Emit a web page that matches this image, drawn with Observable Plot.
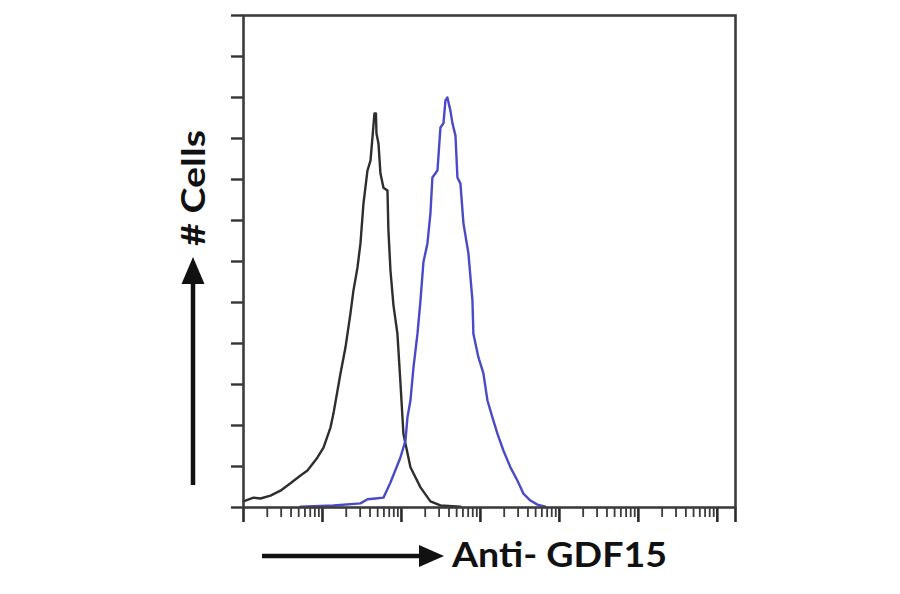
<!DOCTYPE html>
<html><head><meta charset="utf-8">
<script src="https://cdn.jsdelivr.net/npm/d3@7"></script>
<script src="https://cdn.jsdelivr.net/npm/@observablehq/plot@0.6"></script>
<style>body{margin:0;background:#fff} #chart{width:900px;height:594px}</style>
</head><body><div id="chart"></div>
<script>
// x values are log10 fluorescence (decades), y values are cell counts (arbitrary units, max 120)
const controlX = [0.0,0.025,0.127,0.215,0.342,0.468,0.595,0.722,0.810,0.937,1.013,1.101,1.139,1.228,1.291,1.354,1.392,1.443,1.481,1.519,1.570,1.608,1.633,1.658,1.677,1.684,1.709,1.734,1.772,1.823,1.835,1.861,1.899,1.949,1.987,2.025,2.114,2.241,2.367,2.494,2.747];
const controlY = [1.5,1.7,2.4,2.2,2.9,4.1,5.9,7.8,9.0,12.2,14.6,19.5,22.9,32.7,39.0,47.3,52.9,58.5,64.4,74.1,82.2,84.6,90.2,96.1,96.1,91.2,88.8,81.5,78.0,77.3,67.6,57.8,49.3,42.4,30.5,18.0,9.8,4.9,1.5,0.5,0.2];
const stainedX = [0.722,1.139,1.481,1.570,1.671,1.772,1.861,1.987,2.051,2.076,2.114,2.152,2.203,2.241,2.278,2.329,2.367,2.392,2.456,2.494,2.532,2.557,2.582,2.620,2.646,2.684,2.709,2.747,2.785,2.848,2.899,2.911,2.975,3.038,3.089,3.152,3.215,3.291,3.380,3.468,3.544,3.633,3.722,3.823];
const stainedY = [0.2,0.5,1.0,2.0,2.2,2.4,6.1,12.2,16.3,22.0,26.1,34.1,42.4,50.5,59.8,64.4,71.7,80.5,82.2,92.7,93.7,99.3,100.0,96.8,93.7,90.7,80.5,79.0,69.3,62.0,50.5,42.4,36.6,32.7,26.1,22.0,18.0,13.9,9.8,6.6,3.4,1.7,0.7,0.2];
const decades = [0,1,2,3,4,5,6];
const minorMultipliers = [2,3,4,5,6,7,8,9];
const xMax = 6.23;
const yMax = 120;
const yTicks = [0,10,20,30,40,50,60,70,80,90,100,110,120];
const xLabel = "Anti- GDF15";
const yLabel = "# Cells";

const control = controlX.map((x,i)=>({x, y: controlY[i]}));
const stained = stainedX.map((x,i)=>({x, y: stainedY[i]}));
const minorTicks = [];
for (const d of decades) for (const m of minorMultipliers) { const v = d + Math.log10(m); if (v < xMax) minorTicks.push(v); }
const majorTicks = [...decades, xMax];

const plot = Plot.plot({
  width: 900, height: 594,
  marginLeft: 243, marginRight: 165, marginTop: 15, marginBottom: 87,
  x: {domain: [0, xMax], label: null},
  y: {domain: [0, yMax], label: null},
  marks: [
    Plot.axisY(yTicks, {tickSize: 12, tickFormat: () => "", stroke: "#333", strokeWidth: 2.4, label: null}),
    Plot.axisX(minorTicks, {tickSize: 10, tickFormat: () => "", stroke: "#3a3a3a", strokeWidth: 1.8, label: null}),
    Plot.axisX(majorTicks, {tickSize: 15, tickFormat: () => "", stroke: "#2a2a2a", strokeWidth: 2.6, label: null}),
    Plot.line(control, {x: "x", y: "y", stroke: "#2e2e2e", strokeWidth: 2.4}),
    Plot.line(stained, {x: "x", y: "y", stroke: "#4a4ac6", strokeWidth: 2.4}),
    Plot.frame({stroke: "#3c3c3c", strokeWidth: 2.6})
  ]
});
document.getElementById("chart").appendChild(plot);

const svg = d3.select(plot);
const ann = svg.append("g").attr("fill", "#111");
ann.append("line").attr("x1", 193).attr("y1", 485).attr("x2", 193).attr("y2", 278)
  .attr("stroke", "#111").attr("stroke-width", 4.5);
ann.append("path").attr("d", "M193,257 L181.5,284 L204.5,284 Z");
ann.append("text").attr("transform", "translate(205,188) rotate(-90)")
  .attr("text-anchor", "middle").attr("font-family", "Lato").attr("font-weight", "bold")
  .attr("font-size", 33).attr("textLength", 116).attr("lengthAdjust", "spacingAndGlyphs").text(yLabel);
ann.append("line").attr("x1", 262).attr("y1", 556).attr("x2", 425).attr("y2", 556)
  .attr("stroke", "#111").attr("stroke-width", 4.5);
ann.append("path").attr("d", "M444,556 L419,545 L419,567 Z");
ann.append("text").attr("x", 452).attr("y", 567).attr("text-anchor", "start")
  .attr("font-family", "Lato").attr("font-weight", "bold")
  .attr("font-size", 35).attr("textLength", 215).attr("lengthAdjust", "spacingAndGlyphs").text(xLabel);
</script>
</body></html>
